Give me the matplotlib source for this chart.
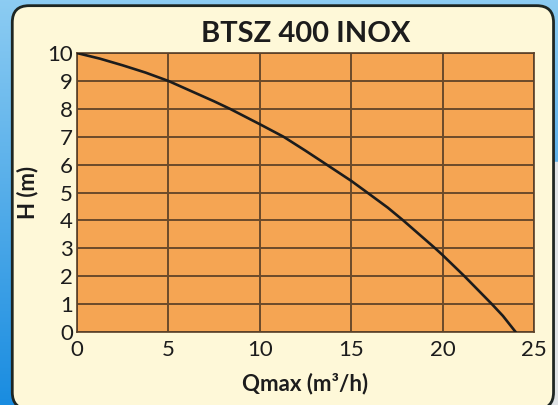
import numpy as np
import matplotlib

matplotlib.use("Agg")
import matplotlib.pyplot as plt
from matplotlib.patches import FancyBboxPatch

# Pump curve
flow = [0, 1.25, 2.5, 3.75, 5, 7.5, 8.37, 10, 11.3, 12.5, 13.66, 15, 15.88,
        17, 17.85, 19.6, 20, 21.2, 22.7, 23.3, 24]
head = [10, 9.8, 9.56, 9.3, 9, 8.27, 8, 7.45, 7, 6.5, 6, 5.42, 5,
        4.46, 4, 3, 2.76, 2, 1, 0.58, 0]

x_ticks = [0, 5, 10, 15, 20, 25]
y_ticks = list(range(0, 11))
title = "BTSZ 400 INOX"
x_label = "Qmax (m³/h)"
y_label = "H (m)"

plt.rcParams["font.family"] = ["Lato", "DejaVu Sans"]

fig = plt.figure(figsize=(5.58, 4.05), dpi=100)

# background: blue gradient behind the card, grey strip on the right
bg = fig.add_axes([0, 0, 1, 1])
grad = np.linspace(0, 1, 200)
blue_top = np.array([0.55, 0.80, 0.95])
blue_bot = np.array([0.10, 0.55, 0.88])
img = np.zeros((200, 1, 3))
for i, t in enumerate(grad):
    img[i, 0] = blue_top * (1 - t) + blue_bot * t
bg.imshow(img, aspect="auto", extent=[0, 1, 0, 1])
bg.axvspan(0.985, 1.0, ymin=0.0, ymax=0.6, color="#dfe3e5")
card = FancyBboxPatch((0.022, -0.01), 0.97, 0.996,
                      boxstyle="round,pad=0,rounding_size=0.03",
                      facecolor="#fef8d8", edgecolor="#1e2622", linewidth=2,
                      transform=bg.transAxes, mutation_aspect=558 / 405)
bg.add_patch(card)
bg.set_xlim(0, 1)
bg.set_ylim(0, 1)
bg.axis("off")

ax = fig.add_axes([0.138, 0.180, 0.819, 0.689])
ax.set_facecolor("#f5a553")
ax.plot(flow, head, color="#1c1c1c", linewidth=1.9, solid_capstyle="round",
        solid_joinstyle="round", zorder=3)
ax.set_xlim(0, 25)
ax.set_ylim(0, 10)
ax.set_xticks(x_ticks)
ax.set_yticks(y_ticks)
ax.tick_params(length=0, labelsize=16, colors="#1c1c1c")
ax.tick_params(axis="x", pad=6)
ax.tick_params(axis="y", pad=3)
ax.grid(True, color="#6b4a2a", linewidth=1.4)
ax.set_axisbelow(True)
for s in ax.spines.values():
    s.set_color("#5a4028")
    s.set_linewidth(1.2)

ax.set_title(title, fontsize=21, fontweight="bold", color="#1c1c1c", pad=8)
ax.set_xlabel(x_label, fontsize=16, fontweight="bold", color="#1c1c1c", labelpad=9)
ax.set_ylabel(y_label, fontsize=16, fontweight="bold", color="#1c1c1c", labelpad=6)

fig.savefig("out.png", dpi=100)
